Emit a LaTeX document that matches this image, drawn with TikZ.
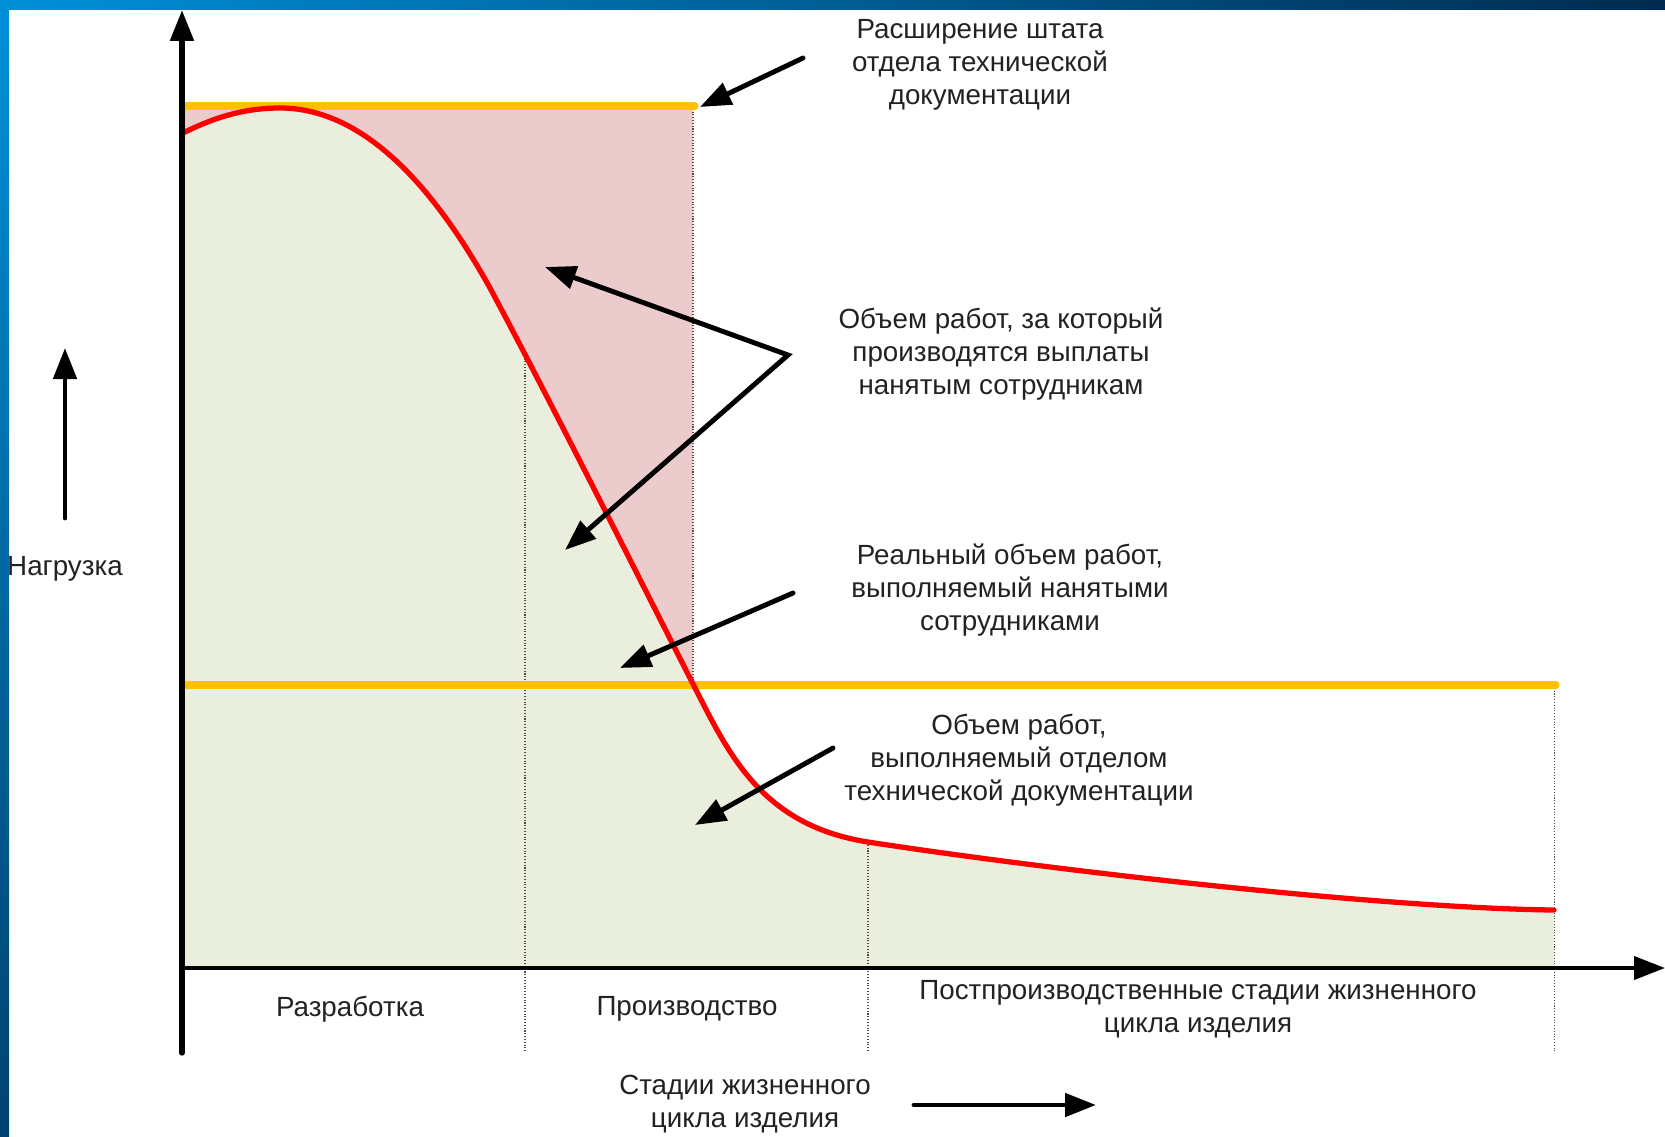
\documentclass[tikz,border=0pt]{standalone}
\usepackage{fontspec}
\setmainfont{Liberation Sans}
\usetikzlibrary{arrows.meta}
\definecolor{loadgreen}{HTML}{EAEEDD}
\definecolor{paidpink}{HTML}{EBCBCB}
\definecolor{staffline}{HTML}{FFC000}
\definecolor{framelight}{HTML}{0090D8}
\definecolor{framemid}{HTML}{00426F}
\definecolor{framedark}{HTML}{002B4E}
\definecolor{labelgray}{HTML}{222222}

\begin{document}
\begin{tikzpicture}[x=0.02cm, y=-0.02cm, >={Triangle[length=0.62cm, width=0.46cm]}]
\tikzstyle{labeltext}=[align=center, inner sep=0pt, text=labelgray, font=\fontsize{15.8pt}{18.8pt}\selectfont]
\tikzstyle{axisstyle}=[black, line width=3pt, line cap=round, ->]
\tikzstyle{drawstyle}=[black, line width=2.8pt, line cap=round, line join=miter, ->]
\tikzstyle{stafflevel}=[staffline, line width=4pt, line cap=round]
\tikzstyle{loadcurve}=[red, line width=3pt, line cap=round]
\tikzstyle{stageline}=[black!70, line width=0.6pt, densely dotted]

\useasboundingbox (0,0) rectangle (1665,1136);
\shade[left color=framelight, middle color=framemid, right color=framedark] (0,0) rectangle (1665,9);
\shade[top color=framelight, bottom color=framemid] (0,0) rectangle (9,1136);

\coordinate (C0) at (183,133);
\coordinate (C1) at (280,108);
\coordinate (C2) at (490,288);
\coordinate (C3) at (693,684);
\coordinate (C4) at (868,842);
\coordinate (C5) at (1554,910);

\fill[paidpink] (183,106) rectangle (693,685);
\fill[loadgreen] (183,968) -- (C0) .. controls (215,117) and (245,108) .. (C1)
  .. controls (360,108) and (430,180) .. (C2)
  .. controls (550,400) and (640,580) .. (C3)
  .. controls (728,752) and (760,825) .. (C4)
  .. controls (1050,870) and (1380,908) .. (C5) -- (1554,968) -- cycle;

\coordinate (S0a) at (525,353);
\coordinate (S0b) at (525,1051);
\coordinate (S1a) at (693,106);
\coordinate (S1b) at (693,685);
\coordinate (S2b) at (868,1051);
\coordinate (S3a) at (1554,685);
\coordinate (S3b) at (1554,1051);
\draw[stageline] (S0a) -- (S0b);
\draw[stageline] (S1a) -- (S1b);
\draw[stageline] (C4) -- (S2b);
\draw[stageline] (S3a) -- (S3b);

\coordinate (L0a) at (183,106);
\coordinate (L0b) at (695,106);
\coordinate (L1a) at (183,685);
\coordinate (L1b) at (1556,685);
\draw[stafflevel] (L0a) -- (L0b);
\draw[stafflevel] (L1a) -- (L1b);

\draw[loadcurve] (C0) .. controls (215,117) and (245,108) .. (C1)
  .. controls (360,108) and (430,180) .. (C2)
  .. controls (550,400) and (640,580) .. (C3)
  .. controls (728,752) and (760,825) .. (C4)
  .. controls (1050,870) and (1380,908) .. (C5);

\coordinate (Y0) at (182,1053);
\coordinate (Y1) at (182,10);
\coordinate (X0) at (182,968);
\coordinate (X1) at (1665,968);
\draw[axisstyle] (Y0) -- (Y1);
\draw[axisstyle, line width=2.3pt] (X0) -- (X1);

\node[labeltext] (N0) at (980,65) {Расширение штата\\отдела технической\\документации};
\node[labeltext] (N1) at (1001,354) {Объем работ, за который\\производятся выплаты\\нанятым сотрудникам};
\node[labeltext] (N2) at (1010,590) {Реальный объем работ,\\выполняемый нанятыми\\сотрудниками};
\node[labeltext] (N3) at (1019,760) {Объем работ,\\выполняемый отделом\\технической документации};
\node[labeltext] (N4) at (65,569) {Нагрузка};
\node[labeltext] (N5) at (350,1009) {Разработка};
\node[labeltext] (N6) at (687,1009) {Производство};
\node[labeltext] (N7) at (1198,1009) {Постпроизводственные стадии жизненного\\цикла изделия};
\node[labeltext] (N8) at (745,1104) {Стадии жизненного\\цикла изделия};

\coordinate (A0s) at (803,58);
\coordinate (A0e) at (700,107);
\draw[drawstyle] (A0s) -- (A0e);
\coordinate (A1s) at (788,355);
\coordinate (A1e) at (545,267);
\coordinate (A1f) at (565,550);
\draw[drawstyle, <->] (A1e) -- (A1s) -- (A1f);
\coordinate (A2s) at (793,593);
\coordinate (A2e) at (620,668);
\draw[drawstyle] (A2s) -- (A2e);
\coordinate (A3s) at (833,748);
\coordinate (A3e) at (695,825);
\draw[drawstyle] (A3s) -- (A3e);
\coordinate (U0s) at (65,518);
\coordinate (U0e) at (65,348);
\draw[drawstyle] (U0s) -- (U0e);
\coordinate (R0s) at (914,1105);
\coordinate (R0e) at (1096,1105);
\draw[drawstyle] (R0s) -- (R0e);
\end{tikzpicture}
\end{document}
